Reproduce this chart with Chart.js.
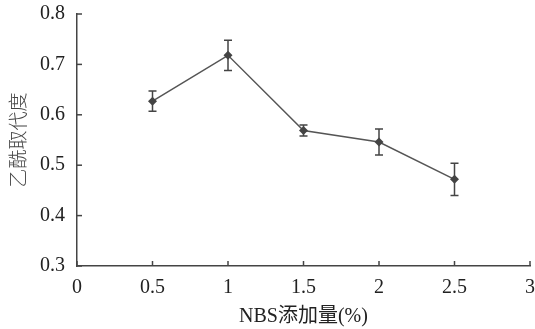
<!DOCTYPE html>
<html lang="zh">
<head>
  <meta charset="UTF-8">
  <title>乙酰取代度</title>
  <script src="https://cdn.jsdelivr.net/npm/chart.js"></script>
  <style>
    html, body { margin: 0; padding: 0; background: #fff; }
    #wrap { width: 535px; height: 329px; }
  </style>
</head>
<body>
<div id="wrap"><canvas id="myChart" width="535" height="329"></canvas></div>
<script>
  // NBS添加量(%) と 乙酰取代度
  const nbsAmount = [0.5, 1, 1.5, 2, 2.5];
  const degree = [0.627, 0.718, 0.569, 0.546, 0.472];
  const errors = [0.020, 0.030, 0.011, 0.026, 0.032];
  const xTicks = [0, 0.5, 1, 1.5, 2, 2.5, 3];
  const yTicks = [0.3, 0.4, 0.5, 0.6, 0.7, 0.8];

  const axisColor = '#444';
  const fontFamily = '"Liberation Serif", "Noto Sans CJK SC", serif';

  // 誤差棒と内向きの目盛りを描くプラグイン
  const extras = {
    id: 'extras',
    afterDatasetsDraw(chart) {
      const ctx = chart.ctx;
      const xs = chart.scales.x, ys = chart.scales.y;
      ctx.save();
      ctx.strokeStyle = axisColor;
      ctx.lineWidth = 1.5;
      // 目盛り
      xTicks.forEach(v => {
        const px = xs.getPixelForValue(v);
        ctx.beginPath();
        ctx.moveTo(px, ys.bottom);
        ctx.lineTo(px, ys.bottom - 5);
        ctx.stroke();
      });
      yTicks.forEach(v => {
        const py = ys.getPixelForValue(v);
        ctx.beginPath();
        ctx.moveTo(xs.left, py);
        ctx.lineTo(xs.left + 5, py);
        ctx.stroke();
      });
      // 誤差棒
      nbsAmount.forEach((x, i) => {
        const px = xs.getPixelForValue(x);
        const top = ys.getPixelForValue(degree[i] + errors[i]);
        const bot = ys.getPixelForValue(degree[i] - errors[i]);
        ctx.beginPath();
        ctx.moveTo(px, top); ctx.lineTo(px, bot);
        ctx.moveTo(px - 4, top); ctx.lineTo(px + 4, top);
        ctx.moveTo(px - 4, bot); ctx.lineTo(px + 4, bot);
        ctx.stroke();
      });
      ctx.restore();
    }
  };

  const ctx = document.getElementById('myChart').getContext('2d');
  new Chart(ctx, {
    type: 'line',
    data: {
      datasets: [{
        data: nbsAmount.map((x, i) => ({x: x, y: degree[i]})),
        borderColor: '#555',
        borderWidth: 1.5,
        backgroundColor: '#444',
        pointStyle: 'rectRot',
        pointRadius: 4.5,
        pointBorderWidth: 0,
        fill: false,
        tension: 0
      }]
    },
    options: {
      responsive: false,
      animation: false,
      layout: { padding: { top: 14, right: 5, left: 0, bottom: 0 } },
      plugins: { legend: { display: false }, tooltip: { enabled: false } },
      scales: {
        x: {
          type: 'linear',
          min: 0, max: 3,
          afterBuildTicks: s => { s.ticks = xTicks.map(v => ({value: v})); },
          afterFit: s => { s.height = 63; s.paddingLeft = 0; s.paddingRight = 0; },
          grid: { display: false },
          border: { display: true, color: axisColor, width: 1.5 },
          ticks: { color: '#222', padding: 2, font: { family: fontFamily, size: 20 }, maxRotation: 0,
                   callback: v => String(v) },
          title: {
            display: true,
            text: 'NBS添加量(%)',
            color: '#222',
            font: { family: fontFamily, size: 20 },
            padding: { top: 0, bottom: 0 }
          }
        },
        y: {
          min: 0.3, max: 0.8,
          afterBuildTicks: s => { s.ticks = yTicks.map(v => ({value: v})); },
          afterFit: s => { s.width = 77; s.paddingTop = 0; s.paddingBottom = 0; },
          grid: { display: false },
          border: { display: true, color: axisColor, width: 1.5 },
          ticks: { color: '#222', padding: 4, font: { family: fontFamily, size: 20 },
                   callback: v => v.toFixed(1) },
          title: {
            display: true,
            text: '乙酰取代度',
            color: '#444',
            font: { family: '"Noto Sans CJK SC", sans-serif', size: 19, weight: 300 },
            padding: { top: 6, bottom: 0 }
          }
        }
      }
    },
    plugins: [extras]
  });
</script>
</body>
</html>
